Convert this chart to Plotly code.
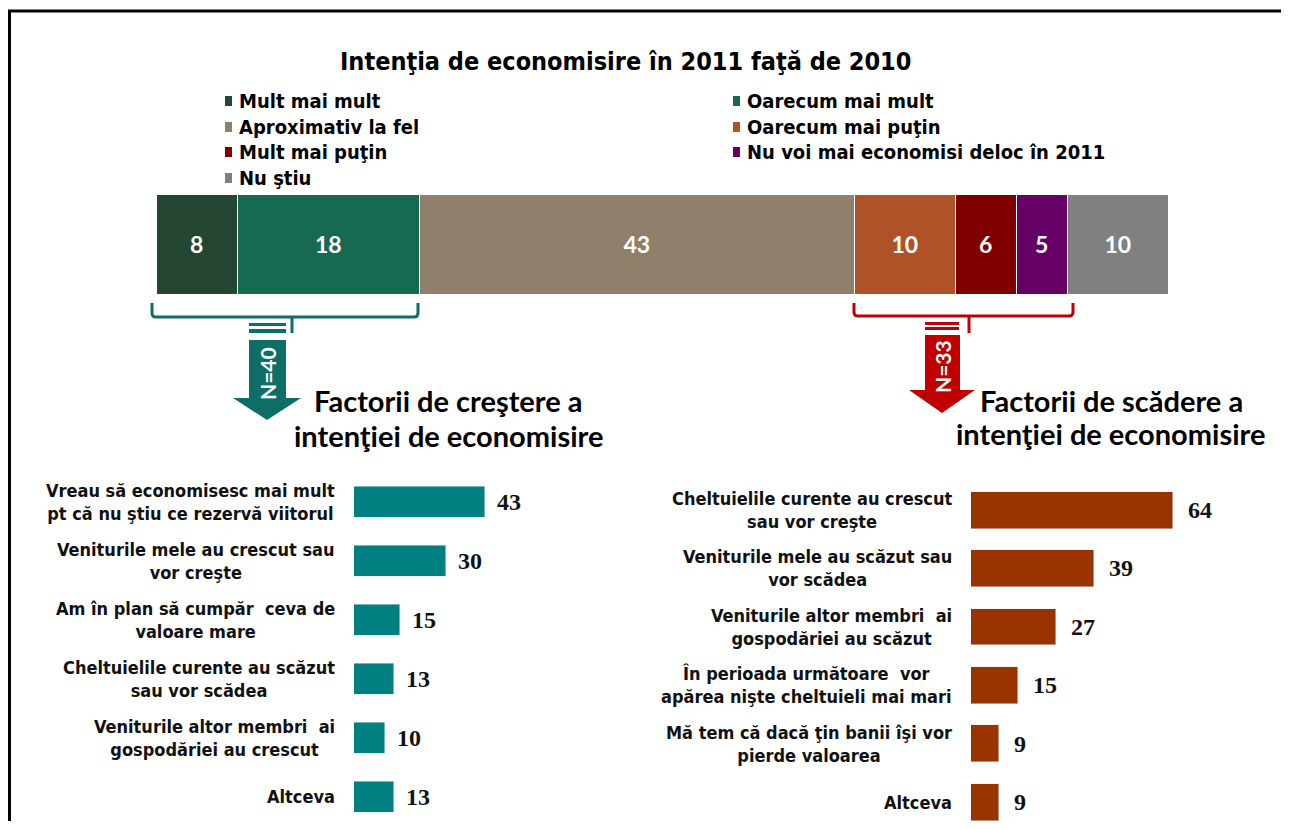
import plotly.graph_objects as go

# page is rendered with an 8px body margin, so the figure is slightly smaller
OX, OY = 8, 8
W, H = 1273, 813

# ---------------- data ----------------
intent_labels = ["Mult mai mult", "Oarecum mai mult", "Aproximativ la fel", "Oarecum mai puţin",
                 "Mult mai puţin", "Nu voi mai economisi deloc în 2011", "Nu ştiu"]
intent_values = [8, 18, 43, 10, 6, 5, 10]
intent_colors = ["#264634", "#176A52", "#8F7F6B", "#AF5228", "#800000", "#660066", "#808080"]

up_labels = ["Vreau să economisesc mai mult<br>pt că nu ştiu ce rezervă viitorul",
             "Veniturile mele au crescut sau<br>vor creşte",
             "Am în plan să cumpăr  ceva de<br>valoare mare",
             "Cheltuielile curente au scăzut<br>sau vor scădea",
             "Veniturile altor membri  ai<br>gospodăriei au crescut",
             "Altceva"]
up_values = [43, 30, 15, 13, 10, 13]

down_labels = ["Cheltuielile curente au crescut<br>sau vor creşte",
               "Veniturile mele au scăzut sau<br>vor scădea",
               "Veniturile altor membri  ai<br>gospodăriei au scăzut",
               "În perioada următoare  vor<br>apărea nişte cheltuieli mai mari",
               "Mă tem că dacă ţin banii îşi vor<br>pierde valoarea",
               "Altceva"]
down_values = [64, 39, 27, 15, 9, 9]

title_text = "Intenţia de economisire în 2011 faţă de 2010"
n_up, n_down = 40, 33

# ---------------- helpers (page pixel -> paper) ----------------
def px(x):
    return min(max((x - OX) / W, 0), 1)

def py(y):
    return min(max(1 - (y - OY) / H, 0), 1)

def P(x, y):
    return f"{px(x):.5f},{py(y):.5f}"

NARROW = "Liberation Sans Narrow, DejaVu Sans Condensed, sans-serif"
HUMAN = "Lato, Open Sans, sans-serif"
LABEL = "DejaVu Sans Condensed, DejaVu Sans, sans-serif"
SERIF = "Liberation Serif, DejaVu Serif, serif"

fig = go.Figure()

# ---------------- top stacked bar ----------------
for lab, val, col in zip(intent_labels, intent_values, intent_colors):
    fig.add_trace(go.Bar(
        x=[val], y=[0], orientation="h", name=lab,
        marker=dict(color=col, line=dict(color="white", width=1.5)),
        text=[str(val)], textposition="inside", insidetextanchor="middle",
        textfont=dict(family=HUMAN, size=23, color="white", weight="bold"),
        width=1, xaxis="x", yaxis="y", showlegend=False, hoverinfo="skip"))

# ---------------- left factor chart ----------------
up_y = list(range(len(up_values)))
fig.add_trace(go.Bar(
    x=up_values, y=up_y, orientation="h", marker=dict(color="#008080"),
    width=0.53, xaxis="x2", yaxis="y2", showlegend=False, hoverinfo="skip"))

# ---------------- right factor chart ----------------
down_y = list(range(len(down_values)))
fig.add_trace(go.Bar(
    x=down_values, y=down_y, orientation="h", marker=dict(color="#993300"),
    width=0.63, xaxis="x3", yaxis="y3", showlegend=False, hoverinfo="skip"))

ann = []
for i, (lab, v) in enumerate(zip(up_labels, up_values)):
    ann.append(dict(x=0, y=i, xref="x2", yref="y2", text=lab, showarrow=False,
                    xanchor="right", yanchor="middle", align="center", xshift=-17,
                    font=dict(family=LABEL, size=18, color="#111", weight="bold")))
    ann.append(dict(x=v, y=i, xref="x2", yref="y2", text=str(v), showarrow=False,
                    xanchor="left", yanchor="middle", xshift=10,
                    font=dict(family=SERIF, size=24, color="#111", weight="bold")))
for i, (lab, v) in enumerate(zip(down_labels, down_values)):
    ann.append(dict(x=0, y=i, xref="x3", yref="y3", text=lab, showarrow=False,
                    xanchor="right", yanchor="middle", align="center", xshift=-17,
                    font=dict(family=LABEL, size=18, color="#111", weight="bold")))
    ann.append(dict(x=v, y=i, xref="x3", yref="y3", text=str(v), showarrow=False,
                    xanchor="left", yanchor="middle", xshift=13,
                    font=dict(family=SERIF, size=24, color="#111", weight="bold")))

# title
ann.append(dict(x=px(625), y=py(62), xref="paper", yref="paper", text=title_text,
                showarrow=False, xanchor="center", yanchor="middle",
                font=dict(family=NARROW, size=25, color="#000", weight="bold")))

# custom legend (two columns)
shapes = []
col_x = [225, 733]
row_y = [101, 127, 152, 178]
for k, (lab, col) in enumerate(zip(intent_labels, intent_colors)):
    cx = col_x[k % 2]
    cy = row_y[k // 2]
    shapes.append(dict(type="rect", xref="paper", yref="paper",
                       x0=px(cx), x1=px(cx + 7), y0=py(cy + 5), y1=py(cy - 5),
                       fillcolor=col, line=dict(width=0)))
    ann.append(dict(x=px(cx + 12), y=py(cy), xref="paper", yref="paper", text=lab,
                    showarrow=False, xanchor="left", yanchor="middle",
                    font=dict(family=NARROW, size=20, color="#000", weight="bold")))

# subtitles
for (cx, cy, t) in [(448, 400, "Factorii de creştere a"), (448, 435, "intenţiei de economisire"),
                    (1111, 400, "Factorii de scădere a"), (1110, 433, "intenţiei de economisire")]:
    ann.append(dict(x=px(cx), y=py(cy), xref="paper", yref="paper", text=t, showarrow=False,
                    xanchor="center", yanchor="middle",
                    font=dict(family=HUMAN, size=29, color="#000", weight="bold")))

def brace(x0, x1, xm, ytop, yh, ytip, color):
    r = 4
    d = (f"M{P(x0, ytop)} L{P(x0, yh - r)} Q{P(x0, yh)} {P(x0 + r, yh)} "
         f"L{P(x1 - r, yh)} Q{P(x1, yh)} {P(x1, yh - r)} L{P(x1, ytop)} "
         f"M{P(xm, yh)} L{P(xm, ytip)}")
    return dict(type="path", xref="paper", yref="paper", path=d,
                line=dict(color=color, width=3))

def arrow(sx0, sx1, ys, yh, hx0, hx1, ytip, color):
    xm = (hx0 + hx1) / 2
    d = (f"M{P(sx0, ys)} L{P(sx1, ys)} L{P(sx1, yh)} L{P(hx1, yh)} L{P(xm, ytip)} "
         f"L{P(hx0, yh)} L{P(sx0, yh)} Z")
    return dict(type="path", xref="paper", yref="paper", path=d,
                fillcolor=color, line=dict(width=0))

def bar_rect(x0, x1, y0, y1, color):
    return dict(type="rect", xref="paper", yref="paper", x0=px(x0), x1=px(x1),
                y0=py(y1), y1=py(y0), fillcolor=color, line=dict(width=0))

GREEN = "#0D6E68"
RED = "#C00000"
shapes.append(brace(152, 418, 292, 303, 317, 333, GREEN))
shapes.append(bar_rect(249, 286, 323, 326, GREEN))
shapes.append(bar_rect(249, 286, 329, 333, GREEN))
shapes.append(arrow(249, 286, 340, 398, 233, 301, 420, GREEN))

shapes.append(brace(854, 1073, 969, 303, 316, 333, RED))
shapes.append(bar_rect(925, 959, 322, 325, RED))
shapes.append(bar_rect(925, 959, 327, 330, RED))
shapes.append(arrow(925, 960, 335, 390, 909, 975, 413, RED))

ann.append(dict(x=px(267), y=py(374), xref="paper", yref="paper", text=f"N={n_up}",
                showarrow=False, textangle=-90, xanchor="center", yanchor="middle",
                font=dict(family=HUMAN, size=21, color="white", weight="bold")))
ann.append(dict(x=px(942), y=py(367), xref="paper", yref="paper", text=f"N={n_down}",
                showarrow=False, textangle=-90, xanchor="center", yanchor="middle",
                font=dict(family=HUMAN, size=21, color="white", weight="bold")))

# frame lines
shapes.append(dict(type="line", xref="paper", yref="paper", x0=px(7), x1=1, y0=py(11), y1=py(11),
                   line=dict(color="black", width=3)))
shapes.append(dict(type="line", xref="paper", yref="paper", x0=px(9.5), x1=px(9.5), y0=py(10), y1=0,
                   line=dict(color="black", width=3)))

hid = dict(visible=False, showgrid=False, zeroline=False, fixedrange=True)
fig.update_layout(
    width=W, height=H, margin=dict(l=0, r=0, t=0, b=0),
    paper_bgcolor="white", plot_bgcolor="white",
    barmode="stack", bargap=0,
    xaxis=dict(domain=[px(157), px(1169)], range=[0, 100], anchor="y", **hid),
    yaxis=dict(domain=[py(295), py(195)], range=[-0.5, 0.5], anchor="x", **hid),
    xaxis2=dict(domain=[px(354), px(354 + 305)], range=[0, 100], anchor="y2", **hid),
    yaxis2=dict(domain=[py(821), py(472.5)], range=[5.407, -0.5], anchor="x2", **hid),
    xaxis3=dict(domain=[px(971), px(971 + 252)], range=[0, 80], anchor="y3", **hid),
    yaxis3=dict(domain=[py(821), py(480.8)], range=[5.325, -0.5], anchor="x3", **hid),
    annotations=ann, shapes=shapes, showlegend=False,
)

fig.write_html("out.html")
